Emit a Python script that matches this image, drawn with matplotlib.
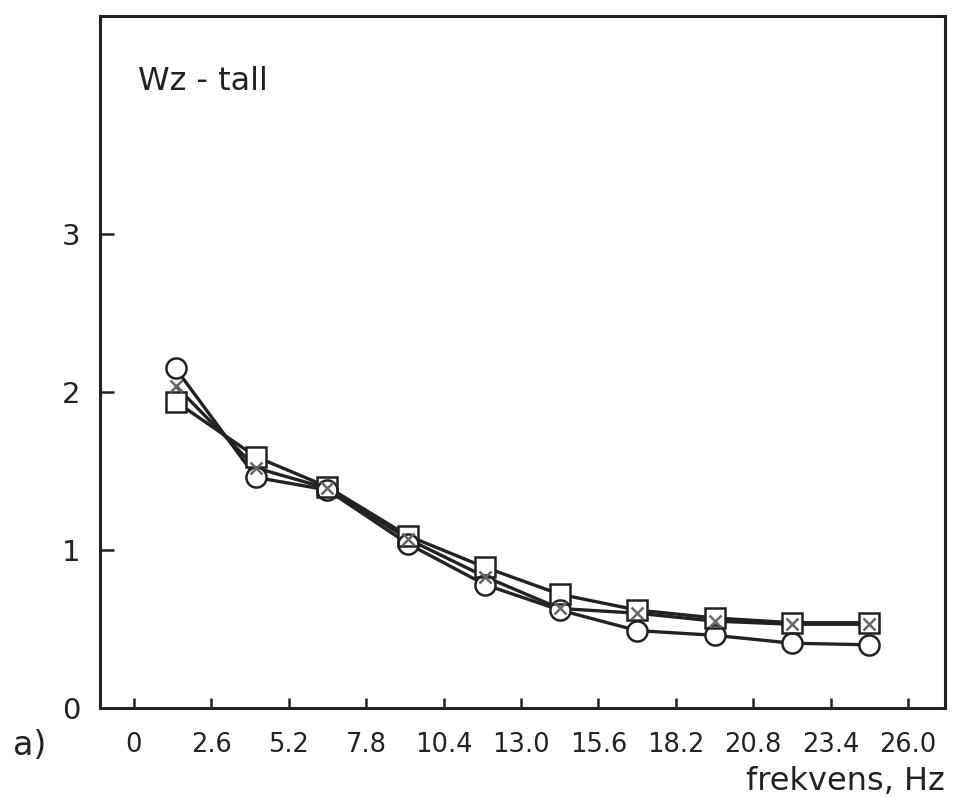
import matplotlib
matplotlib.use("Agg")
import matplotlib.pyplot as plt

# Frequency bin centres (Hz) and the three measured series
freq = [1.4, 4.1, 6.5, 9.2, 11.8, 14.3, 16.9, 19.5, 22.1, 24.7]
circles = [2.15, 1.46, 1.38, 1.04, 0.78, 0.62, 0.49, 0.46, 0.41, 0.40]
squares = [1.94, 1.59, 1.40, 1.09, 0.89, 0.72, 0.62, 0.57, 0.54, 0.54]
crosses = [2.04, 1.52, 1.39, 1.07, 0.83, 0.63, 0.60, 0.55, 0.53, 0.53]

xticks = [0, 2.6, 5.2, 7.8, 10.4, 13.0, 15.6, 18.2, 20.8, 23.4, 26.0]
xtick_labels = ["0", "2.6", "5.2", "7.8", "10.4", "13.0", "15.6", "18.2", "20.8", "23.4", "26.0"]
yticks = [0, 1, 2, 3]
ytick_labels = ["0", "1", "2", "3"]

ink = "#222222"
fig = plt.figure(figsize=(9.57, 7.97), dpi=100)
ax = fig.add_axes([0.1045, 0.1117, 0.883, 0.868])

ax.set_xlim(-1.14, 27.24)
ax.set_ylim(0, 4.38)

# connecting lines
for ys in (circles, squares, crosses):
    ax.plot(freq, ys, color=ink, lw=2.4, zorder=1, solid_capstyle="butt")

# white fills so the lines stop at the symbol outlines
ax.plot(freq, squares, ls="none", marker="s", ms=14, mfc="white", mec="none", zorder=2)
ax.plot(freq, circles, ls="none", marker="o", ms=14.5, mfc="white", mec="none", zorder=2)
# outlines
ax.plot(freq, squares, ls="none", marker="s", ms=14, mfc="none", mec=ink, mew=1.8, zorder=3)
ax.plot(freq, circles, ls="none", marker="o", ms=14.5, mfc="none", mec=ink, mew=1.8, zorder=3)
ax.plot(freq, crosses, ls="none", marker="x", ms=8, mec="#666666", mew=1.8, zorder=4)

for s in ax.spines.values():
    s.set_linewidth(2.2)
    s.set_color(ink)

ax.set_xticks(xticks)
ax.set_xticklabels(xtick_labels, fontsize=18.5, color=ink)
ax.set_yticks(yticks)
ax.set_yticklabels(ytick_labels, fontsize=21, color=ink)
ax.tick_params(axis="x", direction="in", length=7, width=1.8, color=ink, pad=17)
ax.tick_params(axis="y", direction="in", length=10, width=1.8, color=ink, pad=14)

ax.text(0.045, 0.905, "Wz - tall", transform=ax.transAxes, fontsize=23,
        color=ink, ha="left", va="center")
fig.text(0.014, 0.065, "a)", fontsize=24, color=ink, ha="left", va="center")
fig.text(0.9875, 0.02, "frekvens, Hz", fontsize=23, color=ink,
         ha="right", va="center")

fig.savefig("out.png", dpi=100)
